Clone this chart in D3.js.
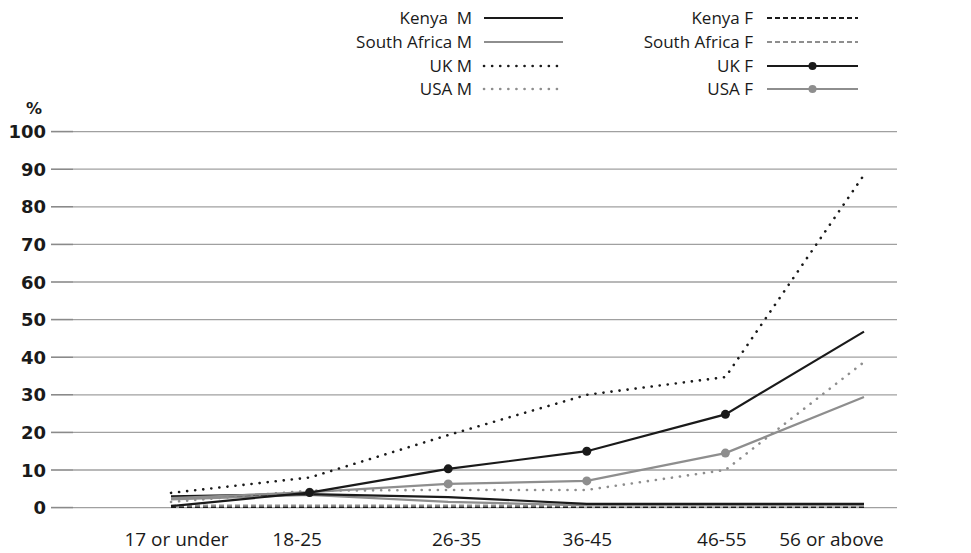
<!DOCTYPE html>
<html><head><meta charset="utf-8">
<script src="https://cdn.jsdelivr.net/npm/d3@7"></script>
<style>
body{margin:0;background:#fff;}
svg{display:block;font-family:"Open Sans","Noto Sans",sans-serif;}
</style></head>
<body><svg id="chart" width="971" height="553"></svg>
<script>
const categories = ["17 or under","18-25","26-35","36-45","46-55","56 or above"];
const yTicks = [0,10,20,30,40,50,60,70,80,90,100];
const seriesNames = ["Kenya  M","Kenya F","South Africa M","South Africa F","UK M","UK F","USA M","USA F"];
const kenyaM = [3.0, 3.6, 2.8, 1.0, 1.0, 1.0];
const kenyaF = [0.2, 0.2, 0.2, 0.2, 0.2, 0.2];
const southAfricaM = [2.2, 3.4, 1.5, 0.6, 0.6, 0.6];
const southAfricaF = [0.5, 0.5, 0.5, 0.5, 0.5, 0.5];
const ukM = [3.9, 8.0, 19.3, 30.0, 34.7, 88.5];
const ukF = [0.4, 4.0, 10.3, 15.0, 24.8, 46.8];
const usaM = [1.5, 4.5, 4.7, 4.7, 10.0, 38.7];
const usaF = [2.5, 4.1, 6.3, 7.1, 14.5, 29.4];

const BLACK = "#1a1a1a", GRAY = "#8e8e8e";
const series = [
  {name:seriesNames[0], values:kenyaM, color:BLACK, dash:null, col:0, row:0},
  {name:seriesNames[1], values:kenyaF, color:BLACK, dash:"5,3", col:1, row:0},
  {name:seriesNames[2], values:southAfricaM, color:GRAY, dash:null, col:0, row:1},
  {name:seriesNames[3], values:southAfricaF, color:GRAY, dash:"5,3", col:1, row:1},
  {name:seriesNames[4], values:ukM, color:BLACK, dash:"0.1,8", dotted:true, col:0, row:2},
  {name:seriesNames[5], values:ukF, color:BLACK, dash:null, marker:true, col:1, row:2},
  {name:seriesNames[6], values:usaM, color:GRAY, dash:"0.1,8", dotted:true, col:0, row:3},
  {name:seriesNames[7], values:usaF, color:GRAY, dash:null, marker:true, col:1, row:3}
];

const svg = d3.select("#chart");
const x = d3.scalePoint().domain(categories).range([171, 864]);
const y = d3.scaleLinear().domain([0,100]).range([507.6, 131.6]);

// gridlines & ticks
const grid = svg.append("g");
yTicks.forEach(t=>{
  grid.append("line").attr("x1",73).attr("x2",897).attr("y1",y(t)).attr("y2",y(t))
    .attr("stroke","#a0a0a0").attr("stroke-width",1.3);
  grid.append("line").attr("x1",51).attr("x2",73).attr("y1",y(t)).attr("y2",y(t))
    .attr("stroke","#8a8a8a").attr("stroke-width",1.6);
  grid.append("text").attr("x",46).attr("y",y(t)).attr("dy","0.37em")
    .attr("text-anchor","end").attr("font-weight","bold").attr("font-size",18)
    .attr("font-family","'DejaVu Sans',sans-serif").attr("fill","#1a1a1a").text(t);
});
svg.append("text").attr("x",34).attr("y",114).attr("text-anchor","middle")
  .attr("font-weight","bold").attr("font-size",16).attr("font-family","'DejaVu Sans',sans-serif")
  .attr("fill","#1a1a1a").text("%");

// x axis labels
const labelShift = [5,-13,8,0,-4,-33];
const xAxis = d3.axisBottom(x).tickSize(0).tickPadding(0);
const gx = svg.append("g").attr("transform","translate(0,532)").call(xAxis);
gx.select(".domain").remove();
gx.selectAll("text").attr("font-size",19).attr("fill","#1a1a1a")
  .attr("font-family","'Open Sans','Noto Sans',sans-serif")
  .attr("dx",(d,i)=>labelShift[i]);

const line = d3.line().x((d,i)=>x(categories[i])).y(d=>y(d));
const drawOrder = [1,3,2,0,6,4,7,5];
drawOrder.forEach(k=>{
  const s = series[k];
  const p = svg.append("path").attr("d", line(s.values)).attr("fill","none")
    .attr("stroke", s.color).attr("stroke-width", s.dotted?2.6:2.2);
  if (s.dash) p.attr("stroke-dasharray", s.dash);
  if (s.dotted) p.attr("stroke-linecap","round");
  if (s.marker) {
    svg.append("g").selectAll("circle").data(s.values.slice(1,5)).join("circle")
      .attr("cx",(d,i)=>x(categories[i+1])).attr("cy",d=>y(d)).attr("r",4.5).attr("fill",s.color);
  }
});

// legend
const legend = svg.append("g");
const colTextX = [472, 753], colLineX = [[484,563],[767,858]];
const rowY = [18, 42, 66, 89];
series.forEach(s=>{
  const ty = rowY[s.row];
  legend.append("text").attr("x",colTextX[s.col]).attr("y",ty).attr("dy","0.35em")
    .attr("text-anchor","end").attr("font-size",17).attr("fill","#1a1a1a")
    .style("white-space","pre").text(s.name);
  const [a,b] = colLineX[s.col];
  const l = legend.append("line").attr("x1",a).attr("x2",b).attr("y1",ty).attr("y2",ty)
    .attr("stroke",s.color).attr("stroke-width", s.dotted?2.6:2.2);
  if (s.dash) l.attr("stroke-dasharray", s.dash);
  if (s.dotted) l.attr("stroke-linecap","round");
  if (s.marker) legend.append("circle").attr("cx",(a+b)/2).attr("cy",ty).attr("r",4).attr("fill",s.color);
});
</script></body></html>
